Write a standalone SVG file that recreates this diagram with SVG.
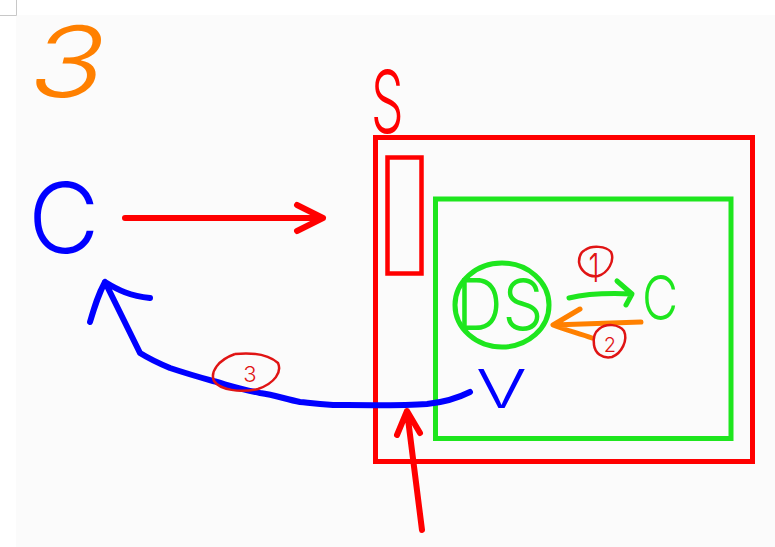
<svg xmlns="http://www.w3.org/2000/svg" width="775" height="547" viewBox="0 0 775 547">
<style>
.ln{fill:none;stroke-linecap:round;stroke-linejoin:round}
.red{stroke:#ff0000}
.blue{stroke:#0000ff}
.green{stroke:#1ee61e}
.orange{stroke:#ff8000}
.lab{fill:none;stroke:#e01414;stroke-width:2.5}
.t{font-family:Inter,"Liberation Sans",Arial,sans-serif;font-weight:300}
.hand{font-family:Inter,"Liberation Sans",Arial,sans-serif;font-weight:300}
</style>
<rect width="775" height="547" fill="#ffffff"/>
<rect x="16" y="15" width="759" height="532" fill="#fbfbfb"/>
<path d="M0 15.5H16.5V0" fill="none" stroke="#c8c8c8" stroke-width="1"/>

<g id="label-3">
<text class="hand" x="0" y="0" font-size="98" fill="#ff8000" transform="translate(24 97) skewX(-14) scale(1.25 1)">3</text>
</g>

<g id="label-S">
<text class="hand" x="0" y="0" font-size="86" fill="#ff0000" transform="translate(371 133) scale(0.6 1)">S</text>
</g>

<g id="node-C-client">
<text class="hand" x="0" y="0" font-size="98" fill="#0000ff" transform="translate(28 253)">C</text>
</g>

<g id="node-S-box">
<rect x="375.5" y="137.5" width="377" height="324" fill="none" stroke="#ff0000" stroke-width="5"/>
<rect x="387.5" y="157.5" width="34" height="116" fill="none" stroke="#ff0000" stroke-width="4.5"/>
</g>

<g id="node-green-box">
<rect x="435.5" y="199" width="295.5" height="239.5" fill="none" stroke="#1ee61e" stroke-width="5"/>
</g>

<g id="node-DS">
<ellipse cx="502" cy="305" rx="47" ry="42" fill="none" stroke="#1ee61e" stroke-width="5"/>
<text class="hand" x="0" y="0" font-size="72" fill="#1ee61e" transform="translate(456 330) scale(0.9 1)">DS</text>
</g>

<g id="node-C-inner">
<text class="hand" x="0" y="0" font-size="62" fill="#1ee61e" transform="translate(642 320) scale(0.8 1)">C</text>
</g>

<g id="node-V">
<text class="hand" x="0" y="0" font-size="54" fill="#0000ff" transform="translate(476 408) scale(1.4 1)">V</text>
</g>

<g id="connectors">
<path class="ln red" stroke-width="6" d="M125 218H323M297 205L323 218L297 231"/>
<path class="ln red" stroke-width="6" d="M422 530L407 411M397 435L407 411L420 433"/>
<path class="ln blue" stroke-width="6" d="M470 392C460 397 447 402 427 404C400 406 350 405 333 405C315 404 310 403 300 402C285 399 275 395 260 393C240 389 228 385 213 381C195 376 185 373 170 368C158 363 148 358 140 353L105 282M90 322C95 305 98 295 105 282C118 290 130 296 150 298"/>
<path class="ln green" stroke-width="5" d="M569 298C590 293 610 293 632 294M617 281L632 294L626 305"/>
<path class="ln orange" stroke-width="5" d="M641 322L553 325M580 309L553 325C565 330 578 333 592 338"/>
</g>

<g id="label-1">
<path class="lab" d="M585 250C592 245 606 246 611 252C615 261 608 273 598 276C588 278 580 270 579 262C579 256 581 252 585 250"/>
<text class="t" x="0" y="0" font-size="40" fill="#e01414" text-anchor="middle" transform="translate(594 282) scale(0.7 1)">1</text>
</g>

<g id="label-2">
<path class="lab" d="M599 329C606 323 619 324 624 331C628 340 622 353 612 357C602 359 595 353 594 345C593 338 595 332 599 329"/>
<text class="t" x="610" y="352" font-size="20" fill="#e01414" text-anchor="middle">2</text>
</g>

<g id="label-3-circled">
<path class="lab" d="M235 354C255 352 270 356 278 363C282 372 275 383 258 389C240 393 220 390 214 381C210 372 218 360 235 354"/>
<text class="t" x="250" y="382" font-size="22" fill="#e01414" text-anchor="middle">3</text>
</g>
</svg>
